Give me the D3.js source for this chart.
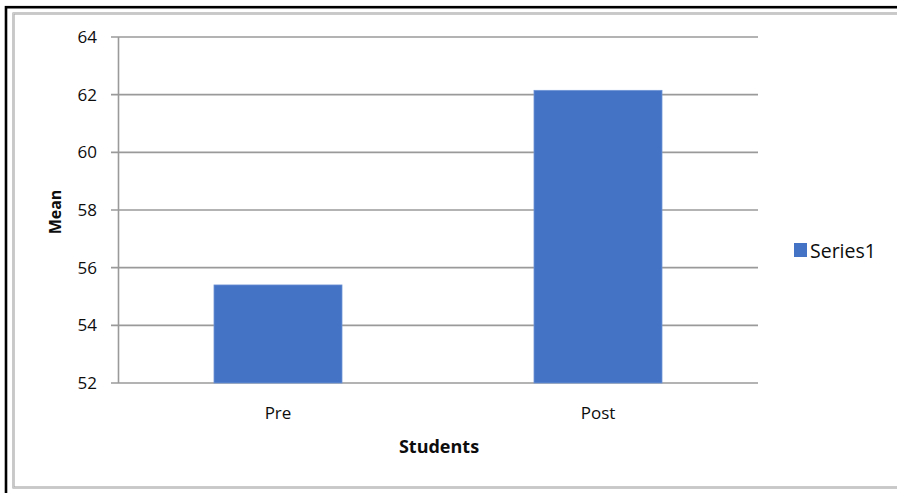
<!DOCTYPE html>
<html>
<head>
<meta charset="utf-8">
<script src="https://cdn.jsdelivr.net/npm/d3@7"></script>
<style>
  body { margin: 0; background: #fff; }
  text { font-family: "Open Sans", sans-serif; fill: #0d0d0d; }
</style>
</head>
<body>
<script type="text/javascript">
var w = 897;
var h = 493;

// data
var groups = ["Pre", "Post"];
var means = [55.4, 62.15];
var yTicks = [52, 54, 56, 58, 60, 62, 64];
var seriesName = "Series1";

var x = d3.scaleBand().domain(groups).range([118, 758]).paddingInner(0.6).paddingOuter(0.3);
var y = d3.scaleLinear().domain([52, 64]).range([383, 37]);

const svg = d3.select("body").append("svg").attr("width", w).attr("height", h);

// frame (screenshot border)
svg.append("rect").attr("x", 6).attr("y", 7.2).attr("width", 900).attr("height", 500)
  .attr("fill", "none").attr("stroke", "#000").attr("stroke-width", 2.6);
svg.append("rect").attr("x", 13.5).attr("y", 13.5).attr("width", 900).attr("height", 474)
  .attr("fill", "none").attr("stroke", "#a8a8a8").attr("stroke-width", 2.2);
svg.append("rect").attr("x", 13.5).attr("y", 13.5).attr("width", 900).attr("height", 474)
  .attr("fill", "none").attr("stroke", "#d0d0d0").attr("stroke-width", 0.8);

// gridlines + y axis
var grid = svg.append("g");
grid.selectAll("line").data(yTicks).enter().append("line")
  .attr("x1", 111).attr("x2", 758)
  .attr("y1", function(d){ return y(d); }).attr("y2", function(d){ return y(d); })
  .attr("stroke", "#9a9a9a").attr("stroke-width", 1.6);

svg.append("line").attr("x1", 118.5).attr("x2", 118.5).attr("y1", y(64)).attr("y2", y(52))
  .attr("stroke", "#9a9a9a").attr("stroke-width", 1.6);

svg.append("g").selectAll("text").data(yTicks).enter().append("text")
  .attr("x", 97).attr("y", function(d){ return y(d) + 6; })
  .attr("text-anchor", "end").attr("font-size", 17)
  .text(function(d){ return d; });

// bars
svg.append("g").selectAll("rect").data(groups).enter().append("rect")
  .attr("x", function(d){ return x(d); })
  .attr("width", x.bandwidth())
  .attr("y", function(d, i){ return y(means[i]); })
  .attr("height", function(d, i){ return y(52) - y(means[i]); })
  .attr("fill", "#4472c4")
  .attr("stroke", "#6f93d6").attr("stroke-width", 0.8);

// category labels
svg.append("g").selectAll("text").data(groups).enter().append("text")
  .attr("x", function(d){ return x(d) + x.bandwidth() / 2; })
  .attr("y", 419).attr("text-anchor", "middle").attr("font-size", 17)
  .text(function(d){ return d; });

// axis titles
svg.append("text").attr("x", 439).attr("y", 453).attr("text-anchor", "middle")
  .attr("font-size", 18).attr("font-weight", "bold").text("Students");
svg.append("text").attr("transform", "translate(61,212) rotate(-90)")
  .attr("text-anchor", "middle").attr("font-size", 16).attr("font-weight", "bold").text("Mean");

// legend
svg.append("rect").attr("x", 794).attr("y", 243).attr("width", 13).attr("height", 14).attr("fill", "#4472c4");
svg.append("text").attr("x", 810).attr("y", 257.5).attr("font-size", 19.5).text(seriesName);
</script>
</body>
</html>
